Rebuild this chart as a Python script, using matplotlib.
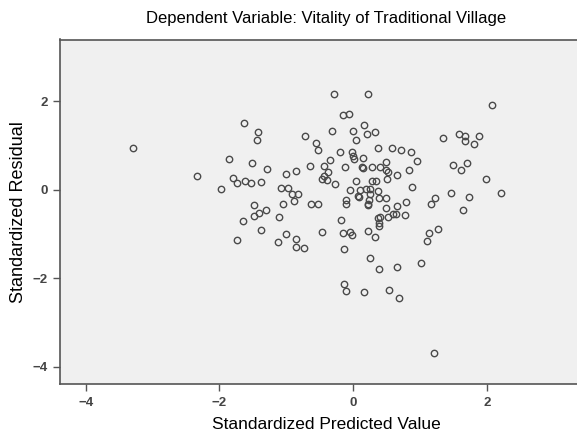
import numpy as np
import matplotlib
matplotlib.use("Agg")
import matplotlib.pyplot as plt

plt.rcParams['font.family'] = ['Liberation Sans', 'DejaVu Sans']

# standardized predicted value / standardized residual
pred = [
    -3.29, -2.33, -1.63, -1.42, -1.43, -0.72, -0.56, -0.53, -1.86, -1.51,
    -1.29, -0.65, -1.79, -1.73, -1.61, -1.52, -1.38, -1.01, -0.86, -1.98,
    -1.08, -0.97, -0.92, -0.83, -0.88, -1.05, -1.48, -0.63, -0.52, -1.48,
    -1.40, -1.31, -1.64, -1.11, -1.38, -1.74, -1.01, -1.13, -0.85, -0.86,
    -0.74, -0.46, -0.28, 0.22, -0.15, -0.06, 0.17, -0.32, 0.00, 0.21,
    0.33, 0.05, -0.19, -0.02, 0.00, 0.01, 0.15, 0.38, 0.59, 0.72,
    0.86, 0.96, -0.34, -0.43, -0.12, 0.14, 0.28, 0.40, 0.50, 0.49,
    0.52, -0.38, -0.44, -0.46, -0.39, 0.66, 0.83, 0.51, -0.27, 0.05,
    0.29, 0.34, -0.04, 0.10, 0.19, 0.25, 0.38, 0.88, 0.07, 0.09,
    0.25, 0.24, -0.10, -0.10, 0.23, 0.39, 0.49, 0.66, 0.79, 1.17,
    1.22, 0.49, 0.23, -0.18, -0.15, -0.04, -0.01, 0.22, 0.33, 0.38,
    0.40, 0.39, 0.39, 0.52, 0.60, 0.64, 0.77, 1.13, 1.10, 1.27,
    -0.14, 0.25, 0.39, 0.65, 1.02, -0.14, -0.10, 0.17, 0.54, 0.68,
    2.08, 1.35, 1.59, 1.68, 1.67, 1.88, 1.81, 1.50, 1.71, 1.61,
    1.99, 1.46, 1.74, 2.22, 1.64, 1.21, 0.15,
]
resid = [
    0.95, 0.31, 1.51, 1.31, 1.11, 1.22, 1.06, 0.90, 0.68, 0.59,
    0.46, 0.53, 0.27, 0.14, 0.19, 0.14, 0.18, 0.35, 0.41, 0.02,
    0.04, 0.04, -0.11, -0.11, -0.26, -0.32, -0.34, -0.32, -0.32, -0.60,
    -0.52, -0.47, -0.71, -0.62, -0.91, -1.13, -1.00, -1.19, -1.11, -1.29,
    -1.31, -0.95, 2.15, 2.15, 1.68, 1.70, 1.46, 1.32, 1.33, 1.25,
    1.29, 1.11, 0.85, 0.86, 0.77, 0.68, 0.71, 0.94, 0.94, 0.90,
    0.86, 0.65, 0.67, 0.53, 0.50, 0.50, 0.51, 0.50, 0.62, 0.44,
    0.40, 0.39, 0.31, 0.23, 0.21, 0.32, 0.44, 0.25, 0.13, 0.19,
    0.19, 0.20, -0.02, -0.02, 0.02, 0.02, -0.04, 0.05, -0.14, -0.17,
    -0.11, -0.23, -0.23, -0.33, -0.32, -0.18, -0.20, -0.37, -0.29, -0.32,
    -0.19, -0.41, -0.35, -0.69, -0.99, -0.96, -1.03, -0.94, -1.08, -0.65,
    -0.62, -0.76, -0.83, -0.61, -0.56, -0.56, -0.58, -0.97, -1.17, -0.90,
    -1.33, -1.54, -1.79, -1.74, -1.66, -2.14, -2.29, -2.31, -2.26, -2.45,
    1.90, 1.16, 1.25, 1.22, 1.09, 1.20, 1.02, 0.56, 0.59, 0.44,
    0.25, -0.08, -0.17, -0.07, -0.45, -3.69, 0.48,
]

ticks = [-4, -2, 0, 2]
edge = '#555555'

fig = plt.figure(figsize=(5.77, 4.33), dpi=100)
ax = fig.add_axes([60 / 577, 49 / 433, 532 / 577, 344.5 / 433])
ax.set_facecolor('#f0f0f0')

ax.plot(pred, resid, 'o', ms=4.6, mfc='none', mec='#4a4a4a', mew=1.0)

ax.set_xlim(-4.385, 3.575)
ax.set_ylim(-4.39, 3.39)
ax.set_xticks(ticks)
ax.set_yticks(ticks)
ax.tick_params(length=5, width=1, color=edge, labelcolor='#444444',
               labelsize=9.5, pad=4)
for lab in ax.get_xticklabels() + ax.get_yticklabels():
    lab.set_fontweight('bold')

for s in ax.spines.values():
    s.set_color(edge)
    s.set_linewidth(1.2)

ax.set_title('Dependent Variable: Vitality of Traditional Village',
             fontsize=12, pad=12)
ax.set_xlabel('Standardized Predicted Value', fontsize=12.5, labelpad=6)
ax.set_ylabel('Standardized Residual', fontsize=13, labelpad=4)

fig.savefig('out.png', dpi=100)
